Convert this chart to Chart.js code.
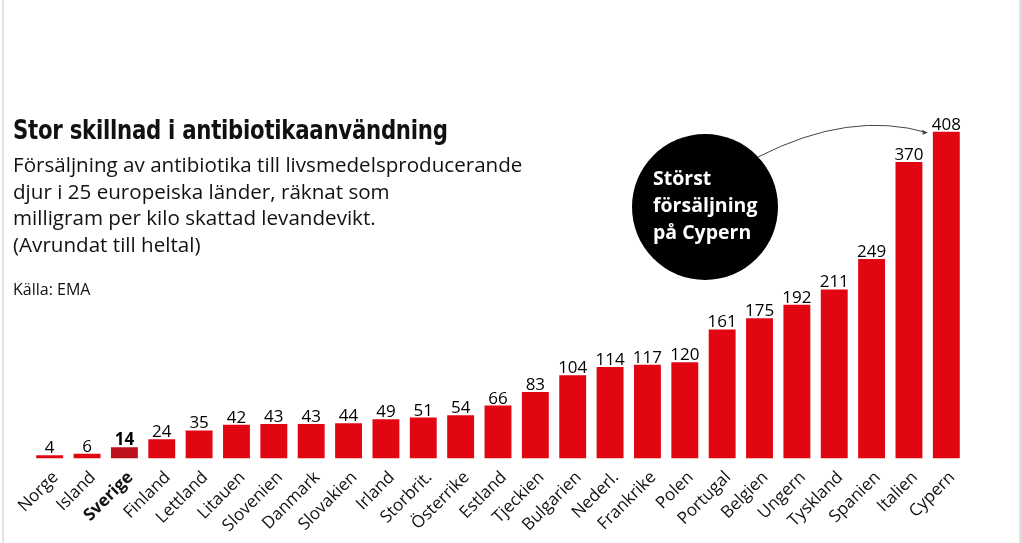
<!DOCTYPE html>
<html>
<head>
<meta charset="utf-8">
<script src="https://cdn.jsdelivr.net/npm/chart.js@4/dist/chart.umd.min.js"></script>
<style>
    html, body { margin: 0; padding: 0; background: #fff; }
    #wrap { position: relative; width: 1021px; height: 543px; overflow: hidden; background: #fff; }
    #wrap:before { content: ''; position: absolute; left: 2px; top: 0; bottom: 0; width: 2px; background: #e2e2e2; }
    #wrap:after { content: ''; position: absolute; left: 1019px; top: 0; bottom: 0; width: 2px; background: #e2e2e2; }
    canvas { position: absolute; left: 0; top: 0; }
    .title { position: absolute; left: 13px; top: 115px; font-family: "DejaVu Sans Condensed", "DejaVu Sans", sans-serif; font-weight: bold; font-size: 26px; color: #111; letter-spacing: -0.3px; white-space: nowrap; transform: scaleX(0.91); transform-origin: 0 0; }
    .sub { position: absolute; left: 13px; top: 151px; font-family: "Open Sans", sans-serif; font-size: 20.6px; line-height: 26.7px; color: #111; white-space: nowrap; }
    .src { position: absolute; left: 13px; top: 278px; font-family: "Open Sans", sans-serif; font-size: 16px; color: #111; }
    .bubble { position: absolute; left: 632px; top: 134px; width: 146px; height: 146px; border-radius: 50%; background: #000; }
    .bubble span { position: absolute; left: 21px; top: 30px; font-family: "Open Sans", sans-serif; font-weight: bold; font-size: 19.5px; line-height: 27px; color: #fff; white-space: nowrap; }
</style>
</head>
<body>
<div id="wrap">
    <canvas id="chart" width="1021" height="543"></canvas>
    <div class="title">Stor skillnad i antibiotikaanvändning</div>
    <div class="sub">Försäljning av antibiotika till livsmedelsproducerande<br>djur i 25 europeiska länder, räknat som<br>milligram per kilo skattad levandevikt.<br>(Avrundat till heltal)</div>
    <div class="src">Källa: EMA</div>
    <div class="bubble"><span>Störst<br>försäljning<br>på Cypern</span></div>
</div>
<script>
const countries = ['Norge', 'Island', 'Sverige', 'Finland', 'Lettland', 'Litauen', 'Slovenien', 'Danmark', 'Slovakien', 'Irland',
    'Storbrit.', 'Österrike', 'Estland', 'Tjeckien', 'Bulgarien', 'Nederl.', 'Frankrike', 'Polen', 'Portugal', 'Belgien',
    'Ungern', 'Tyskland', 'Spanien', 'Italien', 'Cypern'];
const sales = [4, 6, 14, 24, 35, 42, 43, 43, 44, 49, 51, 54, 66, 83, 104, 114, 117, 120, 161, 175, 192, 211, 249, 370, 408];
const highlight = 'Sverige';

const RED = '#e20613';
const DARK_RED = '#bd111b';

// value labels above bars + curved arrow to the highest bar
const barLabels = {
    id: 'barLabels',
    afterDatasetsDraw(chart) {
        const ctx = chart.ctx;
        const meta = chart.getDatasetMeta(0);
        ctx.save();
        ctx.fillStyle = '#000';
        ctx.textAlign = 'center';
        ctx.textBaseline = 'alphabetic';
        meta.data.forEach((bar, i) => {
            ctx.font = (countries[i] === highlight ? 'bold ' : '') + '17px "Open Sans"';
            ctx.fillText(sales[i], bar.x, bar.y - 2);
        });
        // arrow from bubble to top bar
        let top = meta.data[meta.data.length - 1];
        let ex = top.x - 19, ey = top.y + 1;
        ctx.strokeStyle = '#444';
        ctx.lineWidth = 1;
        ctx.beginPath();
        ctx.moveTo(758, 157);
        ctx.quadraticCurveTo(850, 110, ex, ey);
        ctx.stroke();
        ctx.fillStyle = '#444';
        ctx.beginPath();
        ctx.moveTo(ex, ey);
        ctx.lineTo(ex - 5, ey - 3);
        ctx.lineTo(ex - 4.5, ey + 2);
        ctx.closePath();
        ctx.fill();
        ctx.restore();
    }
};

new Chart(document.getElementById('chart'), {
    type: 'bar',
    data: {
        labels: countries,
        datasets: [{
            data: sales,
            backgroundColor: countries.map(c => c === highlight ? DARK_RED : RED),
            borderWidth: 0,
            categoryPercentage: 1,
            barPercentage: 0.72
        }]
    },
    options: {
        responsive: false,
        animation: false,
        layout: {
            padding: { left: 31, right: 56, top: 98, bottom: 6 }
        },
        scales: {
            x: {
                grid: { display: false },
                border: { display: false },
                ticks: {
                    autoSkip: false,
                    maxRotation: 45,
                    minRotation: 45,
                    padding: 1,
                    labelOffset: 6,
                    color: '#111',
                    font: (c) => ({
                        family: '"Open Sans"',
                        size: 17,
                        weight: countries[c.index] === highlight ? 'bold' : 'normal'
                    })
                }
            },
            y: {
                display: false,
                min: 0,
                max: 450
            }
        },
        plugins: {
            legend: { display: false },
            tooltip: { enabled: false }
        }
    },
    plugins: [barLabels]
});
</script>
</body>
</html>
